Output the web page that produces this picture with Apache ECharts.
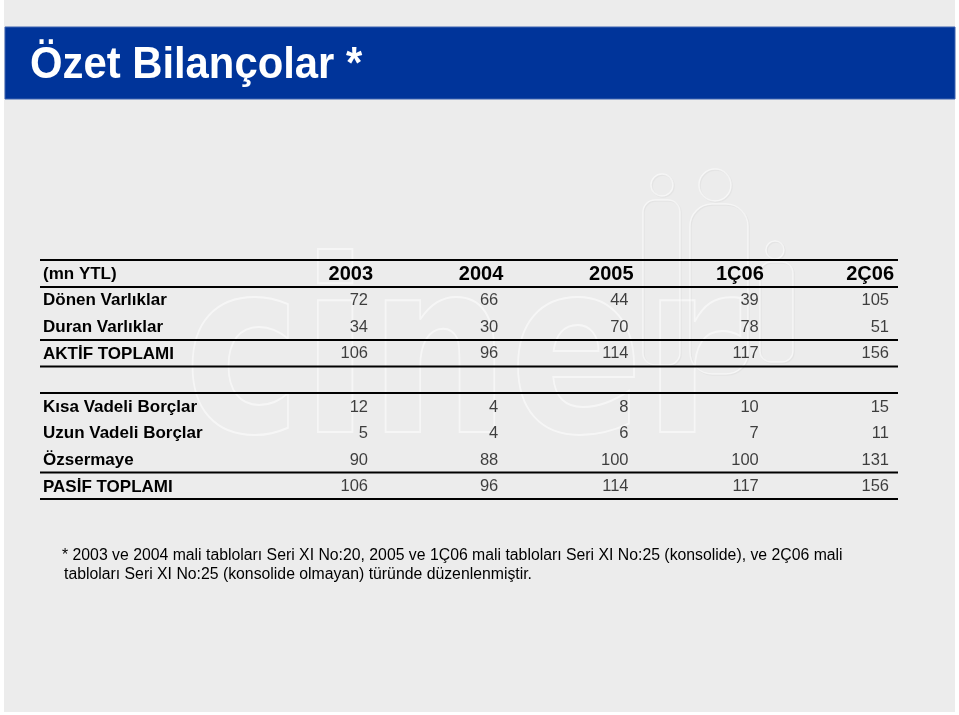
<!DOCTYPE html>
<html>
<head>
<meta charset="utf-8">
<script src="https://cdn.jsdelivr.net/npm/echarts@6/dist/echarts.min.js"></script>
<style>
html,body{margin:0;padding:0;background:#ffffff;}
#main{width:959px;height:715px;}
</style>
</head>
<body>
<div id="main"></div>
<script>
// ---- data ----
const title = 'Özet Bilançolar *';
const unitLabel = '(mn YTL)';
const columns = ['2003', '2004', '2005', '1Ç06', '2Ç06'];
const rows = ['Dönen Varlıklar', 'Duran Varlıklar', 'AKTİF TOPLAMI', ' ',
              'Kısa Vadeli Borçlar', 'Uzun Vadeli Borçlar', 'Özsermaye', 'PASİF TOPLAMI'];
const v2003 = [72, 34, 106, null, 12, 5, 90, 106];
const v2004 = [66, 30, 96, null, 4, 4, 88, 96];
const v2005 = [44, 70, 114, null, 8, 6, 100, 114];
const v1Q06 = [39, 78, 117, null, 10, 7, 100, 117];
const v2Q06 = [105, 51, 156, null, 15, 11, 131, 156];
const footnote1 = '* 2003 ve 2004 mali tabloları Seri XI No:20, 2005 ve 1Ç06 mali tabloları Seri XI No:25 (konsolide), ve 2Ç06 mali';
const footnote2 = 'tabloları Seri XI No:25 (konsolide olmayan) türünde düzenlenmiştir.';

const valueCols = [v2003, v2004, v2005, v1Q06, v2Q06];
const FONT = '"Liberation Sans", Arial, sans-serif';

const chart = echarts.init(document.getElementById('main'), null, {renderer: 'canvas'});

const series = valueCols.map((vals, ci) => ({
  type: 'scatter',
  name: columns[ci],
  symbolSize: 0,
  silent: true,
  z: 10,
  data: vals.map((v, ri) => v == null ? null : [ci, ri, v]).filter(d => d),
  encode: {x: 0, y: 1},
  label: {
    show: true,
    position: 'left',
    distance: 5,
    formatter: p => String(p.value[2]),
    fontFamily: FONT,
    fontSize: 16.5,
    color: '#111111'
  }
}));

// table rule lines (layout)
const ruleYs = [260, 287, 340, 366.5, 393, 472.5, 499];
const rules = ruleYs.map(y => ({
  type: 'line', silent: true, z: 3,
  shape: {x1: 40, y1: y, x2: 898, y2: y},
  style: {stroke: '#000', lineWidth: 2}
}));

// faint watermark
const wmStyle = {fill: 'rgba(0,0,0,0)', stroke: 'rgba(255,255,255,0.55)', lineWidth: 1.5,
                 shadowColor: 'rgba(0,0,0,0.07)', shadowBlur: 1, shadowOffsetX: 1, shadowOffsetY: 1};
const watermark = [
  {type: 'text', silent: true, z: 1, x: 184, y: 249, scaleX: 0.82, scaleY: 1,
   style: {text: 'ciner', font: 'bold 241px "DejaVu Sans"', fill: 'rgba(0,0,0,0)',
           stroke: 'rgba(255,255,255,0.55)', lineWidth: 2,
           shadowColor: 'rgba(0,0,0,0.07)', shadowBlur: 1, shadowOffsetX: 1, shadowOffsetY: 1}},
  {type: 'circle', silent: true, z: 1, shape: {cx: 662, cy: 185, r: 11}, style: wmStyle},
  {type: 'rect', silent: true, z: 1, shape: {x: 643, y: 200, width: 37, height: 165, r: 12}, style: wmStyle},
  {type: 'circle', silent: true, z: 1, shape: {cx: 715, cy: 185, r: 16}, style: wmStyle},
  {type: 'rect', silent: true, z: 1, shape: {x: 690, y: 204, width: 58, height: 170, r: 22}, style: wmStyle},
  {type: 'circle', silent: true, z: 1, shape: {cx: 775, cy: 250, r: 9}, style: wmStyle},
  {type: 'rect', silent: true, z: 1, shape: {x: 760, y: 262, width: 33, height: 100, r: 11}, style: wmStyle}
];

const option = {
  backgroundColor: '#ffffff',
  animation: false,
  grid: {left: 373, right: 65, top: 287.5, height: 212.6, containLabel: false},
  xAxis: {
    type: 'category',
    data: columns,
    boundaryGap: false,
    position: 'top',
    z: 10,
    axisLine: {show: false},
    axisTick: {show: false},
    splitLine: {show: false},
    axisLabel: {
      show: true, interval: 0, align: 'right', margin: 3,
      fontFamily: FONT, fontSize: 20, fontWeight: 'bold', color: '#000'
    }
  },
  yAxis: {
    type: 'category',
    data: rows,
    inverse: true,
    z: 10,
    axisLine: {show: false},
    axisTick: {show: false},
    splitLine: {show: false},
    axisLabel: {
      show: true, interval: 0, align: 'left', margin: 330,
      fontFamily: FONT, fontSize: 17, fontWeight: 'bold', color: '#000'
    }
  },
  graphic: [
    {type: 'rect', silent: true, z: 0, shape: {x: 4, y: 0, width: 951, height: 712}, style: {fill: '#ececec'}},
    ...watermark,
    {type: 'rect', silent: true, z: 2, shape: {x: 5, y: 27, width: 950, height: 72}, style: {fill: '#00349a', stroke: '#3d63b0', lineWidth: 1}},
    {type: 'text', silent: true, z: 3, x: 30, y: 44, scaleX: 0.95, scaleY: 1,
     style: {text: title, font: 'bold 44px ' + FONT, fill: '#ffffff'}},
    {type: 'text', silent: true, z: 3, left: 43, top: 266,
     style: {text: unitLabel, font: 'bold 17px ' + FONT, fill: '#000'}},
    ...rules,
    {type: 'text', silent: true, z: 3, left: 62, top: 548,
     style: {text: footnote1, font: '15.8px ' + FONT, fill: '#000'}},
    {type: 'text', silent: true, z: 3, left: 64, top: 567,
     style: {text: footnote2, font: '15.8px ' + FONT, fill: '#000'}}
  ],
  series: series
};
chart.setOption(option);
</script>
</body>
</html>
